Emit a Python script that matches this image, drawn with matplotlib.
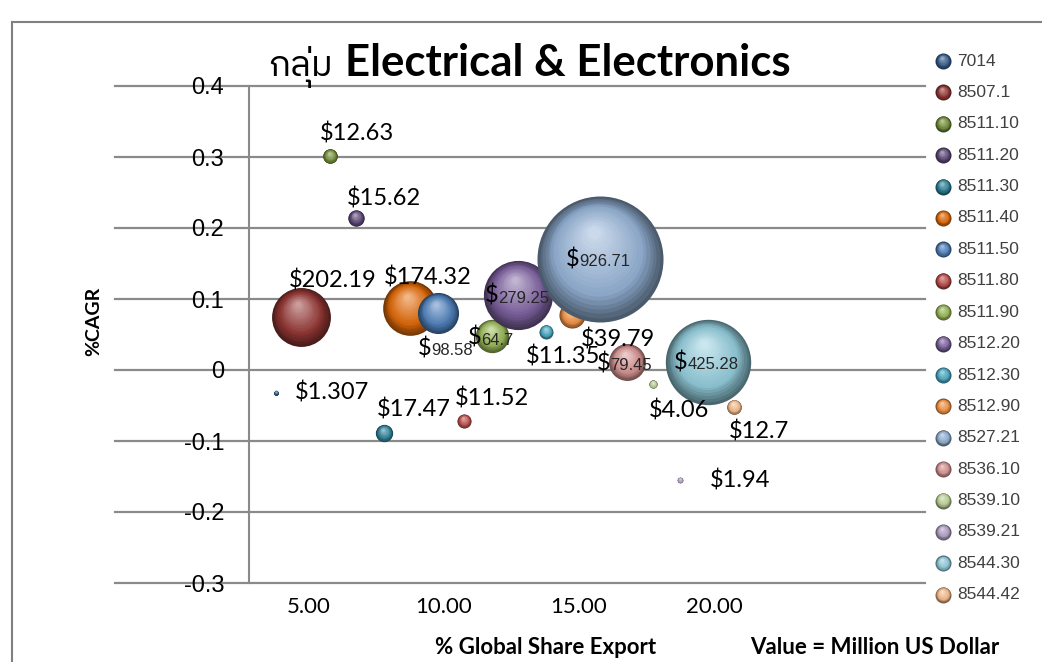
import numpy as np
import matplotlib
matplotlib.use('Agg')
import matplotlib.pyplot as plt
import matplotlib.colors as mcolors
from matplotlib import font_manager
from matplotlib.ft2font import FT2Font
from matplotlib.transforms import offset_copy
from matplotlib.lines import Line2D

plt.rcParams['axes.unicode_minus'] = False

# data
codes = ['7014', '8507.1', '8511.10', '8511.20', '8511.30', '8511.40', '8511.50',
         '8511.80', '8511.90', '8512.20', '8512.30', '8512.90', '8527.21',
         '8536.10', '8539.10', '8539.21', '8544.30', '8544.42']
share = [3.78, 4.70, 5.78, 6.74, 7.78, 8.74, 9.78, 10.74, 11.78, 12.74, 13.78,
         14.74, 15.78, 16.78, 17.74, 18.74, 19.78, 20.74]
cagr = [-0.032, 0.075, 0.301, 0.214, -0.089, 0.087, 0.080, -0.072, 0.048, 0.106,
        0.054, 0.077, 0.156, 0.011, -0.020, -0.155, 0.011, -0.052]
value = [1.307, 202.19, 12.63, 15.62, 17.47, 174.32, 98.58, 11.52, 64.7, 279.25,
         11.35, 39.79, 926.71, 79.45, 4.06, 1.94, 425.28, 12.7]
value_txt = ['1.307', '202.19', '12.63', '15.62', '17.47', '174.32', '98.58', '11.52',
             '64.7', '279.25', '11.35', '39.79', '926.71', '79.45', '4.06', '1.94',
             '425.28', '12.7']
yticks = [-0.3, -0.2, -0.1, 0, 0.1, 0.2, 0.3, 0.4]
ytick_labels = ['-0.3', '-0.2', '-0.1', '0', '0.1', '0.2', '0.3', '0.4']
xticks = [5, 10, 15, 20]
xtick_labels = ['5.00', '10.00', '15.00', '20.00']

colors = ['#376092', '#953735', '#77933C', '#604A7B', '#31859C', '#E46C0A',
          '#4F81BD', '#C0504D', '#9BBB59', '#8064A2', '#4BACC6', '#F79646',
          '#95B3D7', '#D99694', '#C3D69B', '#B3A2C7', '#93CDDD', '#FAC090']

# label placement (pixels from bubble centre), 'in' = small digits centred in bubble
lab_off = [(56, 0), (32, 36), (27, 23), (28, 20), (30, 24), (18, 31), (-7, -35),
           (28, 23), (-11, -2), (-20, -1), (17, -25), (46, -24), (-21, 0),
           (-17, -1), (26, -26), (60, 0), (-21, 0), (25, -25)]
lab_in = [False, False, False, False, False, False, True, False, True, True,
          False, False, True, True, False, False, True, False]

# find an installed font that has Thai letters
thai_family = None
for fe in font_manager.fontManager.ttflist:
    try:
        if 0x0E01 in FT2Font(fe.fname).get_charmap():
            thai_family = fe.name
            if 'Sans' in fe.name:
                break
    except Exception:
        pass
thai_fams = [thai_family, 'Lato'] if thai_family else ['Lato']

W, H, DPI = 1042, 662, 100
fig = plt.figure(figsize=(W / DPI, H / DPI), dpi=DPI)
fig.patch.set_facecolor('white')

def fx(px):
    return px / W

def fy(py):
    return 1 - py / H

ax = fig.add_axes([fx(115), fy(583), fx(925) - fx(115), fy(86) - fy(583)])
ax.set_xlim(-2.185, 27.81)
ax.set_ylim(-0.3, 0.4)

grid_c = '#8a8a8a'
for s in ['top', 'right', 'bottom']:
    ax.spines[s].set_visible(False)
ax.spines['left'].set_position(('data', 2.78))
ax.spines['left'].set_color(grid_c)
ax.spines['left'].set_linewidth(1.5)
ax.set_yticks(yticks)
ax.set_yticklabels(ytick_labels, fontfamily='Liberation Sans', fontsize=17)
ax.set_xticks(xticks)
ax.set_xticklabels(xtick_labels, fontfamily='Lato', fontsize=16)
ax.tick_params(axis='y', length=0, pad=18)
ax.tick_params(axis='x', length=0, pad=10)
ax.grid(axis='y', color=grid_c, linewidth=1.6)
ax.set_axisbelow(True)
for gl in ax.get_ygridlines():
    gl.set_clip_on(False)


def sphere(a, x, y, r, color, z, n=20):
    # stacked discs, shifted up-left, to fake the glossy 3D bubble
    base = np.array(mcolors.to_rgb(color))
    dark = base * 0.5
    mid = base * 0.92
    light = base + (1 - base) * 0.5
    for i in range(n):
        t = i / (n - 1)
        rr = r * (1 - 0.9 * t)
        if t < 0.3:
            c = dark + (mid - dark) * (t / 0.3)
        else:
            c = mid + (light - mid) * ((t - 0.3) / 0.7)
        tr = offset_copy(a.transData, fig=fig, x=-0.1 * r * t, y=0.42 * r * t, units='dots')
        a.scatter([x], [y], s=(2 * rr * 72 / DPI) ** 2, color=np.clip(c, 0, 1),
                  transform=tr, zorder=z, linewidths=0)


for i in range(len(codes)):
    r = 2.07 * np.sqrt(value[i])
    sphere(ax, share[i], cagr[i], r, colors[i], 3 + i * 0.01)

for i in range(len(codes)):
    dx, dy = lab_off[i]
    if lab_in[i]:
        ax.annotate('\\$', (share[i], cagr[i]), xytext=(dx, dy - 7), textcoords='offset pixels',
                    ha='right', va='baseline', fontfamily='Lato', fontsize=17, zorder=10)
        ax.annotate(value_txt[i], (share[i], cagr[i]), xytext=(dx, dy - 7), textcoords='offset pixels',
                    ha='left', va='baseline', fontfamily='Liberation Sans', fontsize=12,
                    color='#262626', zorder=10)
    else:
        ax.annotate('\\$' + value_txt[i], (share[i], cagr[i]), xytext=(dx, dy),
                    textcoords='offset pixels', ha='center', va='center',
                    fontfamily='Lato', fontsize=17, zorder=10)

# title
fig.text(fx(333), fy(76), 'กลุ่ม', ha='right', va='baseline', fontsize=26,
         family=thai_fams)
fig.text(fx(345), fy(76), 'Electrical & Electronics', ha='left', va='baseline',
         fontsize=31.5, fontweight='bold', fontfamily='Lato')

# axis titles
fig.text(fx(94), fy(321), '%CAGR', rotation=90, ha='center', va='center',
         fontsize=14, fontweight='bold', fontfamily='Lato')
fig.text(fx(546), fy(648), '% Global Share Export', ha='center', va='center',
         fontsize=16, fontweight='bold', fontfamily='Lato')
fig.text(fx(875), fy(648), 'Value = Million US Dollar', ha='center', va='center',
         fontsize=16, fontweight='bold', fontfamily='Lato')

# overlay for legend and frame
lax = fig.add_axes([0, 0, 1, 1])
lax.set_xlim(0, W)
lax.set_ylim(H, 0)
lax.axis('off')
lax.patch.set_alpha(0)
for i, code in enumerate(codes):
    ly = 61 + i * 31.4
    sphere(lax, 943, ly, 8, colors[i], 3, n=10)
    lax.text(957, ly, code, ha='left', va='center', fontfamily='Liberation Sans',
             fontsize=12.5, color='#404040')

lax.add_line(Line2D([12, W + 5], [22, 22], color='#808080', linewidth=1.5))
lax.add_line(Line2D([12, 12], [22, H + 5], color='#808080', linewidth=1.5))

fig.savefig('out.png', dpi=DPI)
